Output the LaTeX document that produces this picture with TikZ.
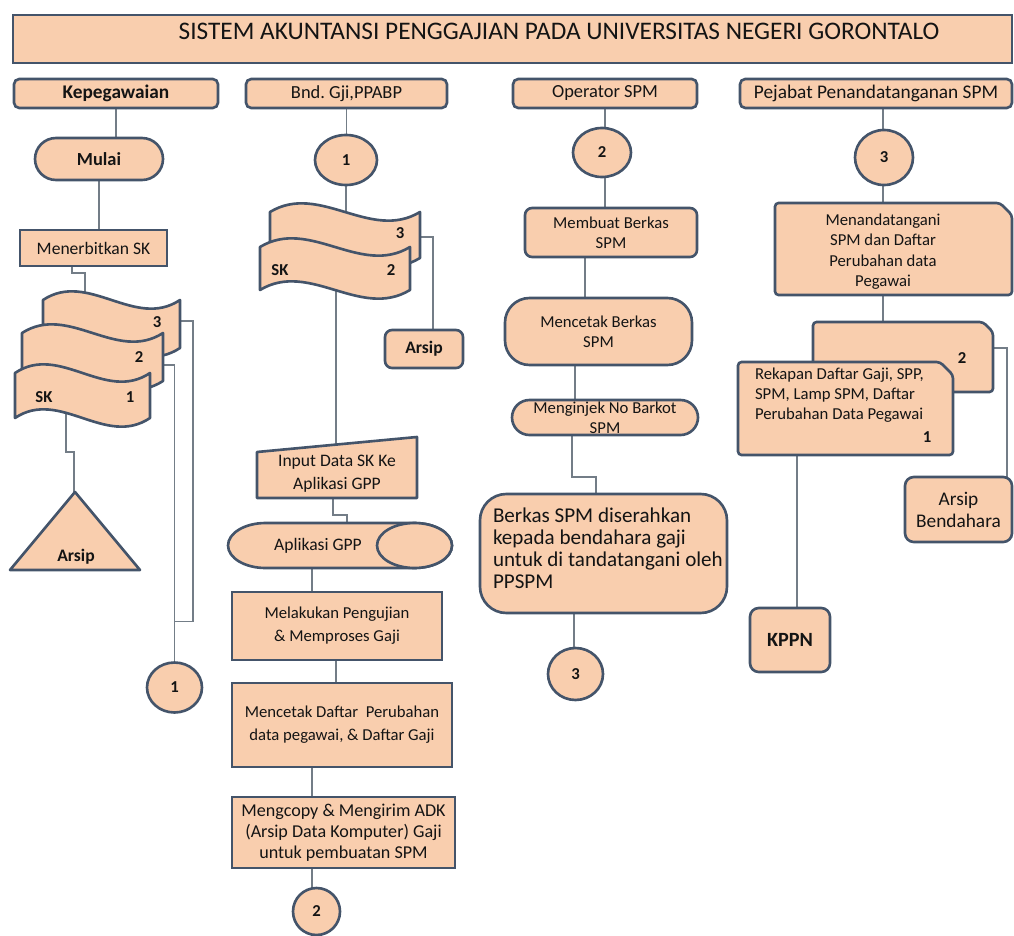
\documentclass[tikz,border=0pt]{standalone}
\usepackage{fontspec}
\setmainfont{Carlito}
\usetikzlibrary{calc,shapes.misc,shapes.geometric}
\definecolor{pk}{RGB}{249,206,174}
\definecolor{bd}{RGB}{68,84,106}
\definecolor{cn}{RGB}{115,125,135}
\definecolor{tx}{RGB}{20,20,20}
\pgfdeclarelayer{bg}\pgfdeclarelayer{shp}\pgfsetlayers{bg,shp,main}
\tikzset{
 sz/.style 2 args={minimum width={#1*0.02cm},minimum height={#2*0.02cm}},
 fs/.style 2 args={font=\fontsize{#1}{#2}\selectfont},
 fsb/.style 2 args={font=\fontsize{#1}{#2}\selectfont\bfseries},
 nbase/.style={inner sep=0pt,outer sep=0pt,text=tx,align=center,fs={9.5}{11.5}},
 fbox/.style={nbase,draw=bd,fill=pk,line width=1.5pt},
 fstad/.style={fbox,rounded rectangle},
 fcirc/.style={fbox,ellipse,fsb={9.5}{11.5}},
 ghost/.style={nbase},
 lab/.style={nbase,fsb={9.5}{11.5}},
 shp/.style={draw=bd,fill=pk,line width=1.5pt,line join=round},
 conn/.style={draw=cn,line width=0.7pt},
}
\newcommand\tapedoc[2]{%
 \path[shp] (#1.north west) .. controls ($(#1.north west)!0.33!(#1.north east)+(0,-#2)$) and ($(#1.north west)!0.67!(#1.north east)+(0,#2)$) .. (#1.north east) -- (#1.south east) .. controls ($(#1.south west)!0.67!(#1.south east)+(0,#2)$) and ($(#1.south west)!0.33!(#1.south east)+(0,-#2)$) .. (#1.south west) -- cycle;}
\newcommand\carddoc[2]{%
 \path[shp,rounded corners=2pt] (#1.south west) -- (#1.north west) -- ($(#1.north east)+(-#2,0)$) -- ($(#1.north east)+(0,#2)$) -- (#1.south east) -- cycle;}
\newcommand\vconn[3]{\draw[conn] ($(#1)+(#2,0)$) coordinate (tmp) -- (tmp |- #3);}
\begin{document}
\frenchspacing
\begin{tikzpicture}[x=0.02cm,y=-0.02cm]
\useasboundingbox (0,0) rectangle (1014,936);
% title and lanes
\node[fbox,sz={999}{48}] (title) at (512.5,39) {};
\node[ghost,fs={14.4}{17}] (titleT) at (559,31) {SISTEM AKUNTANSI PENGGAJIAN PADA UNIVERSITAS NEGERI GORONTALO};
\node[fbox,rounded corners=3pt,sz={204}{29},fsb={11}{13}] (h1) at (116,93.5) {Kepegawaian};
\node[fbox,rounded corners=3pt,sz={201}{29},fs={10.5}{12.5}] (h2) at (346.5,93.5) {Bnd. Gji,PPABP};
\node[fbox,rounded corners=3pt,sz={184}{29},fs={10.5}{12.5}] (h3) at (605,93.5) {Operator SPM};
\node[fbox,rounded corners=3pt,sz={272}{29},fs={11}{13}] (h4) at (876,93.5) {Pejabat Penandatanganan SPM};
% column 1
\node[fstad,sz={128}{42},fsb={10.5}{12.5}] (mulai) at (99,159) {Mulai};
\node[fbox,sz={147}{36},fs={10}{12}] (men) at (93.5,248) {Menerbitkan SK};
\node[ghost,sz={137}{48}] (d13) at (111.5,324) {};
\node[ghost,sz={141}{48}] (d12) at (92.5,357) {};
\node[ghost,sz={135}{45}] (d11) at (82.5,395.5) {};
\node[lab] (l13) at (157,322) {3};
\node[lab] (l12) at (139,357) {2};
\node[lab] (l11a) at (44,397) {SK};
\node[lab] (l11b) at (130,397) {1};
\node[ghost,sz={130}{78}] (tri) at (75,531) {};
\node[lab,fsb={10}{12}] (triT) at (76,557) {Arsip};
\node[fcirc,sz={55}{50}] (c1) at (174.5,687.5) {1};
% column 2
\node[fcirc,sz={62}{50}] (c21) at (346,160) {1};
\node[ghost,sz={150}{46}] (d23) at (345,235) {};
\node[ghost,sz={150}{43}] (d22) at (335,268.5) {};
\node[lab] (l23) at (400,233) {3};
\node[lab] (l22a) at (280,270) {SK};
\node[lab] (l22b) at (391,270) {2};
\node[fbox,rounded corners=4pt,sz={78}{38},fsb={10}{12}] (ars2) at (424,349) {Arsip};
\node[ghost,sz={160}{61}] (inp) at (337,467.5) {};
\node[ghost,fs={10}{13}] (inpT) at (337,473.5) {Input Data SK Ke\\Aplikasi GPP};
\node[ghost,sz={224}{45}] (apl) at (340,545.5) {};
\node[ghost,fs={10}{12}] (aplT) at (318,546) {Aplikasi GPP};
\node[fbox,sz={210}{68},fs={9.5}{13}] (mel) at (337,626) {Melakukan Pengujian\\\& Memproses Gaji};
\node[fbox,sz={220}{84},fs={9.5}{13}] (mct) at (342,725) {Mencetak Daftar~~Perubahan\\data pegawai, \& Daftar Gaji};
\node[fbox,sz={223}{71},fs={10.3}{12}] (mcp) at (343.5,832.5) {Mengcopy \& Mengirim ADK\\(Arsip Data Komputer) Gaji\\untuk pembuatan SPM};
\node[fcirc,sz={47}{47}] (c22) at (316.5,911.5) {2};
% column 3
\node[fcirc,sz={58}{49}] (c31) at (602,152.5) {2};
\node[fbox,rounded corners=4pt,sz={172}{49}] (mb) at (611,232.5) {Membuat Berkas\\SPM};
\node[fbox,rounded corners=14pt,sz={187}{67}] (mcb) at (598.5,331.5) {Mencetak Berkas\\SPM};
\node[fstad,sz={186}{35}] (mnj) at (605,417.5) {Menginjek No Barkot\\SPM};
\node[fbox,rounded corners=15pt,sz={247}{119}] (brk) at (603.5,553.5) {};
\node[ghost,anchor=west,align=left,fs={12}{12.6}] (brkT) at (493,548) {Berkas SPM diserahkan\\kepada bendahara gaji\\untuk di tandatangani oleh\\PPSPM};
\node[fcirc,sz={55}{52}] (c33) at (575.5,674) {3};
% column 4
\node[fcirc,sz={58}{55}] (c43) at (884,157.5) {3};
\node[ghost,sz={237}{92}] (mnd) at (893.5,249) {};
\node[ghost,fs={9.5}{11.6}] (mndT) at (883,251.5) {Menandatangani\\SPM dan Daftar\\Perubahan data\\Pegawai};
\node[ghost,sz={180}{70}] (d42) at (903,357) {};
\node[ghost,sz={215}{93}] (d41) at (845.5,408.5) {};
\node[lab] (l42) at (962,358) {2};
\node[ghost,anchor=west,align=left,fs={9.5}{11.5}] (d41T) at (755,395) {Rekapan Daftar Gaji, SPP,\\SPM, Lamp SPM, Daftar\\Perubahan Data Pegawai};
\node[lab] (l41) at (927,437) {1};
\node[fbox,rounded corners=5pt,sz={107}{65},fs={11}{12.5}] (ab) at (958.5,509.5) {Arsip\\Bendahara};
\node[fbox,rounded corners=5pt,sz={80}{64},fsb={11.5}{13}] (kppn) at (790,640) {KPPN};
% custom shapes
\begin{pgfonlayer}{shp}
\tapedoc{d13}{30}
\tapedoc{d12}{30}
\tapedoc{d11}{30}
\path[shp] (tri.north) -- (tri.south east) -- (tri.south west) -- cycle;
\tapedoc{d23}{30}
\tapedoc{d22}{30}
\path[shp] (inp.south west) -- ($(inp.north west)+(0,15)$) -- (inp.north east) -- (inp.south east) -- cycle;
\path[shp] ($(apl.north west)+(37.5,0)$) -- ($(apl.north east)+(-37.5,0)$) arc[start angle=90,end angle=-90,x radius=0.75cm,y radius=0.45cm] -- ($(apl.south west)+(37.5,0)$) arc[start angle=270,end angle=90,x radius=0.75cm,y radius=0.45cm] -- cycle;
\path[shp] ($(apl.east)+(-37.5,0)$) ellipse[x radius=0.75cm,y radius=0.45cm];
\carddoc{mnd}{12}
\carddoc{d42}{10}
\carddoc{d41}{13}
\end{pgfonlayer}
% connectors
\begin{pgfonlayer}{bg}
\draw[conn] (h1.south) -- (h1.south |- mulai.north);
\draw[conn] (mulai.south) -- (mulai.south |- men.north);
\draw[conn] ($(men.south west)+(52,0)$) -- ++(0,7) -| ($(d13.north west)+(42,0)$);
\draw[conn] ($(d11.west)+(51,0)$) -- ($(d11.south west)+(51,34)$) -| ($(tri.north)+(-1,0)$);
\draw[conn] ($(d13.east)+(0,-3)$) -- ++(13,0) |- ($(c1.north)+(0,-41)$);
\draw[conn] ($(d12.east)+(0,8)$) -| (c1.north);
\draw[conn] (h2.south) -- (h2.south |- c21.north);
\draw[conn] (c21.south) -- (c21.south |- d23.center);
\draw[conn] ($(d23.east)+(0,2)$) -| ($(ars2.north)+(9,0)$);
\vconn{d22.center}{1}{inp.center}
\draw[conn] ($(inp.south)+(-4,0)$) -- ++(0,17) -| ($(apl.north)+(7,0)$);
\vconn{apl.south}{-28}{mel.north}
\vconn{mel.south}{-1}{mct.north}
\vconn{mct.south}{-30}{mcp.north}
\vconn{mcp.south}{-31.5}{c22.center}
\vconn{h3.south}{0}{c31.center}
\vconn{c31.center}{3}{mb.north}
\vconn{mb.south}{-26}{mcb.north}
\vconn{mcb.south}{-23.5}{mnj.north}
\draw[conn] ($(mnj.south)+(-33,0)$) -- ++(0,42) -| ($(brk.north)+(-7.5,0)$);
\vconn{brk.south}{-29.5}{c33.center}
\vconn{h4.south}{7}{c43.center}
\vconn{c43.south}{-1}{mnd.north}
\vconn{mnd.south}{-10.5}{d42.north}
\draw[conn] ($(d42.east)+(0,-9)$) -| ($(ab.north)+(48.5,0)$);
\vconn{d41.south}{-48.5}{kppn.north}
\end{pgfonlayer}
\end{tikzpicture}
\end{document}
